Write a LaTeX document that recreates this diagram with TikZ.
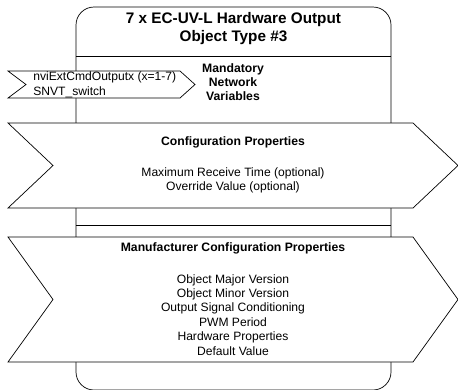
\documentclass[tikz,border=0pt]{standalone}
\usepackage{fontspec}
\setmainfont{Liberation Sans}
\usetikzlibrary{positioning}
\begin{document}
\begin{tikzpicture}[x=1pt, y=-1pt, line width=0.7pt,
  chev/.style = {draw, fill=white},
  head/.style = {font=\bfseries\fontsize{15.3}{18}\selectfont, align=center},
  hdr/.style = {font=\bfseries\fontsize{12.2}{14}\selectfont, align=center, inner sep=0pt},
  txt/.style = {font=\fontsize{12.1}{14.4}\selectfont, align=center, inner sep=0pt}]
\useasboundingbox (0,0) rectangle (458,389);
\draw[chev, rounded corners=18pt] (76,390) -- (76,7) -- (391,7) -- (391,390) -- cycle;
\draw (76,56) -- (391,56);
\draw (76,225) -- (391,225);
\draw[chev] (8,71) -- (180,71) -- (195,84.5) -- (180,98) -- (8,98) -- (26,84.5) -- cycle;
\draw[chev] (8,123) -- (413,123) -- (458,165.5) -- (413,208) -- (8,208) -- (53,165.5) -- cycle;
\draw[chev] (8,237) -- (413,237) -- (458,299.5) -- (413,362) -- (8,362) -- (53,299.5) -- cycle;
\node[head] (title) at (233.5,29) {7 x EC-UV-L Hardware Output\\Object Type \#3};
\node[hdr] (mand) at (233,82) {Mandatory\\Network\\Variables};
\node[txt, align=left, anchor=west] (nvi) at (33,85) {nviExtCmdOutputx (x=1-7)\\SNVT\_switch};
\node[hdr] (cfg) at (233,142) {Configuration Properties};
\node[txt, below=19pt of cfg.south] (cfglist) {Maximum Receive Time (optional)\\Override Value (optional)};
\node[hdr] (mfr) at (233,248) {Manufacturer Configuration Properties};
\node[txt, below=20pt of mfr.south] (mfrlist) {Object Major Version\\Object Minor Version\\Output Signal Conditioning\\PWM Period\\Hardware Properties\\Default Value};
\end{tikzpicture}
\end{document}
